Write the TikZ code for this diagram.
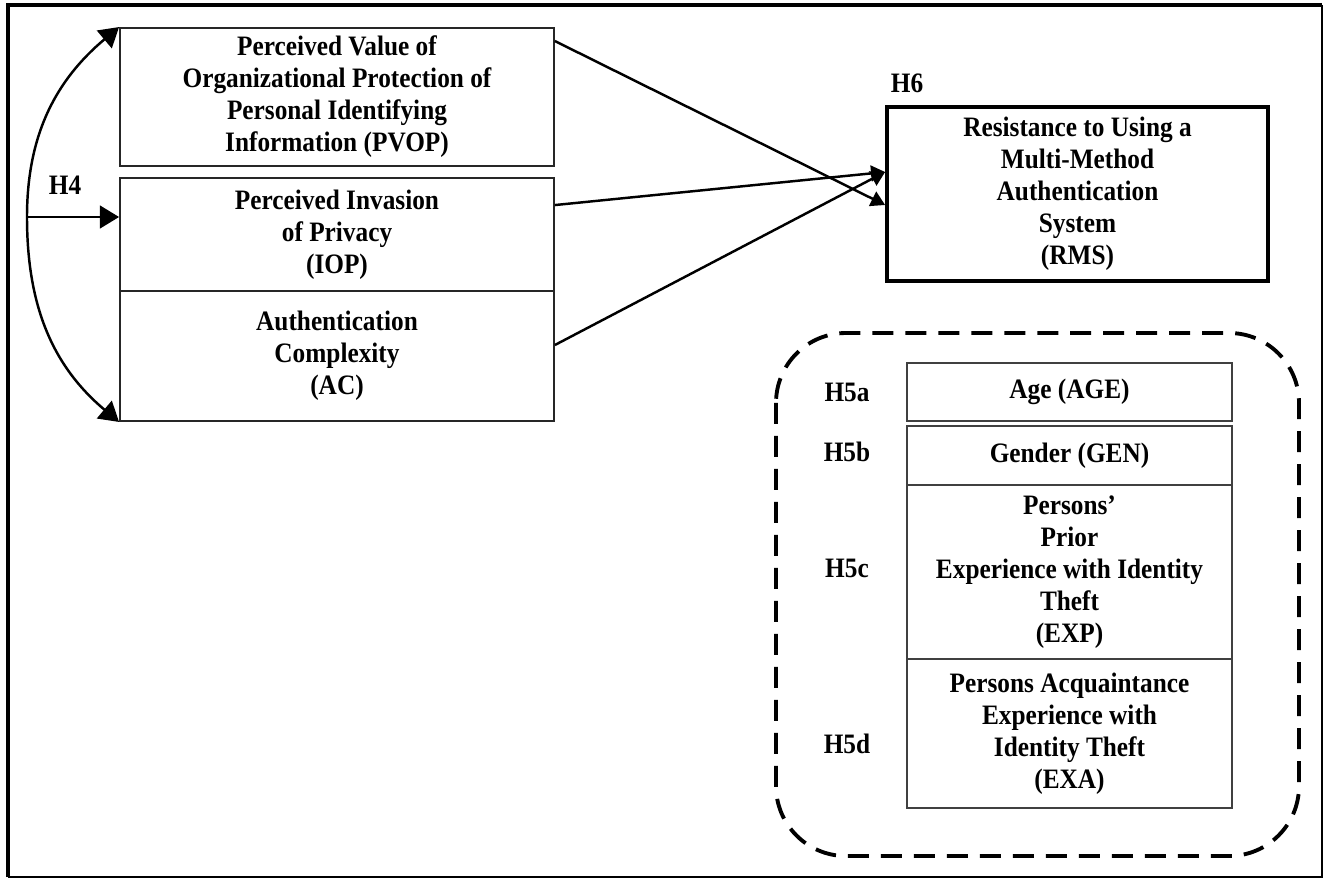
\documentclass[tikz,border=0pt]{standalone}
\usepackage{fontspec}
\setmainfont{Liberation Serif}[FakeStretch=0.9]
\usetikzlibrary{calc,arrows.meta}
\tikzset{>={Triangle[length=11pt,width=13pt]}}
\newcommand{\boxfont}{\bfseries\fontsize{16}{18.2}\selectfont}
\tikzset{
  box/.style={draw=black!85, line width=1.1pt, inner sep=0pt, align=center, font=\boxfont},
  rmsbox/.style={box, draw=black, line width=2.2pt},
  inbox/.style={box, draw=black!75, line width=0.9pt, minimum width=6.5cm},
  hyp/.style={inner sep=0pt, font=\boxfont},
  link/.style={line width=1.4pt},
  group/.style={line width=2.2pt, dash pattern=on 0.42cm off 0.24cm, rounded corners=1.4cm}
}

\begin{document}
\begin{tikzpicture}[x=0.02cm, y=-0.02cm]
\useasboundingbox (0,0) rectangle (1324,879);
\draw[line width=1.2pt] (1322,5) -- (1322,877) -- (8,877);
\draw[line width=2.4pt] (8,877) -- (8,5) -- (1322,5);

% predictors
\node[box, minimum width=8.68cm, minimum height=2.76cm] (pvop) at (337,97) {Perceived Value of\\Organizational Protection of\\Personal Identifying\\Information (PVOP)};
\node[box, minimum width=8.68cm, minimum height=2.26cm] (iop) at (337,234.5) {Perceived Invasion\\of Privacy\\(IOP)};
\node[box, minimum width=8.68cm, minimum height=2.6cm] (ac) at (337,356) {Authentication\\Complexity\\(AC)};
\node[hyp] (h4) at (65,185) {H4};

% outcome
\node[rmsbox, minimum width=7.62cm, minimum height=3.48cm] (rms) at (1077.5,194) {Resistance to Using a\\Multi-Method\\Authentication\\System\\(RMS)};
\node[hyp] (h6) at (907,83) {H6};

\coordinate (hub) at (27,217);
\draw[link, ->] (hub) -- (hub -| iop.west);
\draw[link, ->] (hub) to[out=90, in=220] (pvop.north west);
\draw[link, ->] (hub) to[out=-90, in=140] (ac.south west);

\draw[link, -{Triangle[length=8pt,width=9pt]}] ($(pvop.north east)+(0,14)$) -- ($(rms.west)+(0,11)$);
\draw[link, -{Triangle[length=8pt,width=9pt]}] ($(iop.north east)+(0,28)$) -- ($(rms.west)+(0,-22)$);
\draw[link, -{Triangle[length=8pt,width=9pt]}] ($(ac.east)+(0,-11)$) -- ($(rms.west)+(0,-22)$);

% moderators
\draw[group] (776,333) rectangle (1299,856);
\node[inbox, minimum height=1.16cm] (age) at (1069.5,392) {Age (AGE)};
\node[inbox, minimum height=1.18cm] (gen) at (1069.5,455.5) {Gender (GEN)};
\node[inbox, minimum height=3.48cm] (exp) at (1069.5,572) {Persons’\\Prior\\Experience with Identity\\Theft\\(EXP)};
\node[inbox, minimum height=2.98cm] (exa) at (1069.5,733.5) {Persons Acquaintance\\Experience with\\Identity Theft\\(EXA)};
\node[hyp] (h5a) at (847,392) {H5a};
\node[hyp] (h5b) at (847,452) {H5b};
\node[hyp] (h5c) at (847,568) {H5c};
\node[hyp] (h5d) at (847,744) {H5d};
\end{tikzpicture}
\end{document}
